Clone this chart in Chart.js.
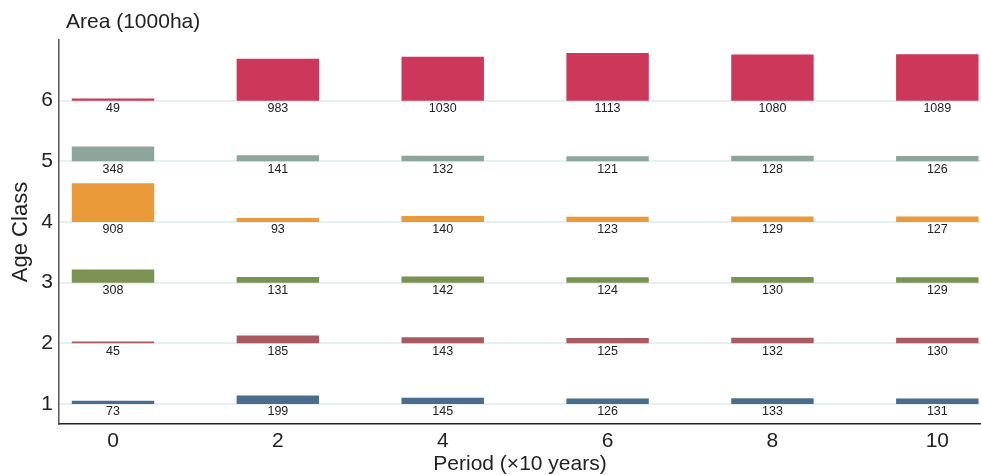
<!DOCTYPE html>
<html>
<head>
<meta charset="utf-8">
<script src="https://cdn.jsdelivr.net/npm/chart.js@4.4.0/dist/chart.umd.min.js"></script>
<style>
  html, body { margin: 0; padding: 0; background: #fff; }
  #wrap { width: 981px; height: 475px; }
</style>
</head>
<body>
<div id="wrap"><canvas id="chart"></canvas></div>
<script>
// данные
const periods = [0, 2, 4, 6, 8, 10];
const ageClasses = [1, 2, 3, 4, 5, 6];
const area1 = [73, 199, 145, 126, 133, 131];
const area2 = [45, 185, 143, 125, 132, 130];
const area3 = [308, 131, 142, 124, 130, 129];
const area4 = [908, 93, 140, 123, 129, 127];
const area5 = [348, 141, 132, 121, 128, 126];
const area6 = [49, 983, 1030, 1113, 1080, 1089];
const areas = [area1, area2, area3, area4, area5, area6];
const classColors = ["#4a6d8d", "#a95b62", "#7b9252", "#ea9a38", "#8ea59a", "#cd3759"];

// 1000ha на одну ступень класса
const areaPerClass = 1420;

const FONT = "'Liberation Sans', Arial, sans-serif";

const datasets = ageClasses.map((cls, i) => ({
  label: "Class " + cls,
  data: periods.map((p, j) => ({ x: p, y: [cls, cls + areas[i][j] / areaPerClass], v: areas[i][j] })),
  backgroundColor: classColors[i],
  borderWidth: 0,
  grouped: false,
  barPercentage: 1,
  categoryPercentage: 0.5,
}));

// подписи значений под столбиками
const valueLabels = {
  id: "valueLabels",
  afterDatasetsDraw(chart) {
    const { ctx, scales } = chart;
    ctx.save();
    ctx.font = "12.5px " + FONT;
    ctx.fillStyle = "#222";
    ctx.textAlign = "center";
    ctx.textBaseline = "middle";
    chart.data.datasets.forEach((ds) => {
      ds.data.forEach((d) => {
        const x = scales.x.getPixelForValue(d.x);
        const y = scales.y.getPixelForValue(d.y[0]);
        ctx.fillText(String(d.v), x, y + 8);
      });
    });
    ctx.restore();
  },
};

// заголовок сверху слева
const topTitle = {
  id: "topTitle",
  afterDraw(chart) {
    const { ctx, chartArea } = chart;
    ctx.save();
    ctx.font = "21px " + FONT;
    ctx.fillStyle = "#222";
    ctx.textAlign = "left";
    ctx.textBaseline = "middle";
    ctx.fillText("Area (1000ha)", chartArea.left + 7, 22);
    ctx.restore();
  },
};

new Chart(document.getElementById("chart"), {
  type: "bar",
  data: { datasets },
  options: {
    responsive: true,
    maintainAspectRatio: false,
    animation: false,
    layout: { padding: { top: 40, right: 0, left: 0, bottom: 0 } },
    plugins: { legend: { display: false }, tooltip: { enabled: false } },
    scales: {
      x: {
        type: "linear",
        offset: false,
        min: -0.655,
        max: 10.53,
        afterBuildTicks: (axis) => { axis.ticks = periods.map((v) => ({ value: v })); },
        afterFit: (scale) => { scale.height = 51; },
        grid: { drawOnChartArea: false, drawTicks: false },
        border: { color: "#222", width: 1.5 },
        ticks: { color: "#222", font: { family: FONT, size: 21 }, padding: 5, maxRotation: 0 },
        title: {
          display: true,
          text: "Period (×10 years)",
          color: "#222",
          font: { family: FONT, size: 21, lineHeight: 1 },
          padding: 0,
        },
      },
      y: {
        type: "linear",
        min: 0.67,
        max: 7.0,
        afterBuildTicks: (axis) => { axis.ticks = ageClasses.map((v) => ({ value: v })); },
        afterFit: (scale) => { scale.width = 59; },
        grid: { color: "#e6f0f2", lineWidth: 2, drawTicks: false },
        border: { color: "#555", width: 1.5 },
        ticks: { color: "#222", font: { family: FONT, size: 21 }, padding: 6 },
        title: {
          display: true,
          text: "Age Class",
          color: "#222",
          font: { family: FONT, size: 22 },
          padding: { top: 8, bottom: 0 },
        },
      },
    },
  },
  plugins: [valueLabels, topTitle],
});
</script>
</body>
</html>
